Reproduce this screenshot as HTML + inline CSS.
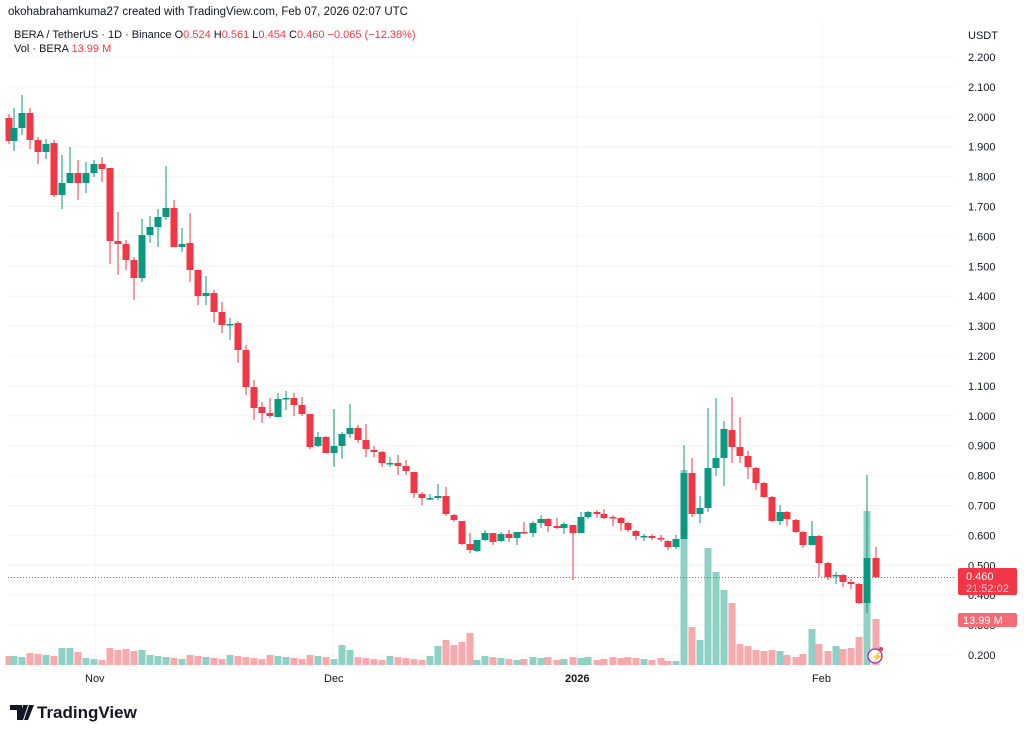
<!DOCTYPE html>
<html><head><meta charset="utf-8"><style>
body{margin:0;background:#fff;width:1024px;height:736px;overflow:hidden;font-family:"Liberation Sans",sans-serif;}
</style></head><body>
<svg id="s" width="1024" height="736" xmlns="http://www.w3.org/2000/svg" style="position:absolute;left:0;top:0"></svg>
<script>
const s=document.getElementById('s');let h='';
const Y=p=>655-(p-0.2)*299;
for(let i=2;i<=22;i++){const y=Y(i/10);h+=`<line x1="8" x2="955" y1="${y}" y2="${y}" stroke="#f3f4f6" stroke-width="1"/>`;}
[95,333,577,822].forEach(x=>h+=`<line x1="${x}" x2="${x}" y1="20" y2="665" stroke="#f3f4f6"/>`);
const C=[[9,118,141,114,144,0],[14,128,141,108,151,1],[22,113,128,95,135,1],[30,113,140,108,149,0],[38,140,152,137,164,0],[46,144,152,139,159,1],[54,143,195,140,197,0],[62,183,195,155,209,1],[70,173,183,147,183,1],[78,173,183,160,200,0],[86,173,183,162,193,1],[94,164,173,160,177,1],[102,164,169,157,182,0],[110,168,241,168,264,0],[118,241,244,212,275,0],[126,244,260,240,270,0],[134,260,278,257,300,0],[142,235,278,219,282,1],[150,227,235,216,243,1],[158,217,227,209,247,1],[166,208,217,166,220,1],[174,208,247,200,247,0],[182,244,247,228,252,1],[190,243,270,213,282,0],[198,270,296,270,305,0],[206,293,296,276,305,1],[214,293,312,290,323,0],[222,312,325,302,333,0],[230,324,325,318,340,1],[238,323,350,321,363,0],[246,350,387,345,395,0],[254,387,408,380,420,0],[262,407,413,402,423,0],[270,413,416,398,418,0],[278,399,417,393,417,1],[286,398,399,391,410,1],[294,398,405,393,416,0],[302,405,414,397,416,0],[310,414,447,414,449,0],[318,437,446,432,447,1],[326,437,453,436,453,0],[334,446,453,409,467,1],[342,434,446,432,459,1],[350,428,434,404,438,1],[358,428,440,425,443,0],[366,440,449,424,457,0],[374,450,452,446,457,0],[382,452,463,451,467,0],[390,463,464,457,467,1],[398,463,466,455,475,0],[406,466,471,460,475,0],[414,472,493,472,498,0],[422,494,498,492,505,0],[430,498,499,494,500,1],[438,496,498,484,500,1],[446,496,514,487,516,0],[454,515,520,514,522,0],[462,521,544,521,545,0],[470,544,550,533,553,0],[477,540,551,540,552,1],[485,533,540,530,541,1],[493,533,542,533,545,0],[501,534,541,532,542,1],[509,534,538,530,542,0],[517,532,538,532,545,1],[524,532,533,522,534,0],[533,523,533,521,537,1],[541,519,523,515,528,1],[548,519,526,518,532,0],[557,526,528,518,529,0],[564,524,528,522,534,1],[573,525,533,525,580,0],[581,517,533,512,533,1],[588,512,517,511,519,1],[597,512,514,510,518,0],[604,514,518,509,519,0],[613,517,518,515,526,0],[621,518,523,517,531,0],[628,523,530,522,532,0],[636,531,536,530,540,0],[644,536,537,534,541,1],[652,536,538,534,540,0],[661,538,539,535,542,0],[668,541,547,540,550,0],[676,539,547,535,549,1],[684,473,539,445,539,1],[692,473,514,458,517,0],[700,508,514,496,523,1],[708,468,508,408,512,1],[716,458,468,398,476,1],[724,429,458,421,486,1],[732,430,447,397,463,0],[740,447,456,417,463,0],[748,456,467,451,479,0],[756,468,483,467,490,0],[764,483,497,482,498,0],[772,497,521,496,522,0],[780,512,521,505,525,1],[787,512,519,511,526,0],[796,520,532,519,533,0],[803,532,545,531,548,0],[812,536,545,521,545,1],[819,536,563,535,577,0],[828,563,577,562,580,0],[836,575,576,572,584,1],[843,575,582,574,587,0],[851,582,584,579,589,0],[859,584,603,583,604,0],[867,558,603,475,613,1],[876,558,577,547,578,0]];
const VO={684:470,692:627,700:640,708:548,716:572,724:590,732:603,740:644,748:646,756:650,764:651,772:650,780:651,787:655,796:657,803:654,812:629,819:644,828:651,836:646,843:649,851:648,859:637,867:511,876:619,333:625,342:645,350:650,470:633,462:642,454:645,446:640,438:646,62:648,70:648,78:652,110:648,118:650,126:649,134:651,142:650,668:661,676:661};
let vb='',cb='';
C.forEach(c=>{const[x,t,b,wt,wb,g]=c;let v=VO[x];if(v===undefined){v=x<60?655:(x<150?658:(x<330?657:658));v+=((x*7)%5)-2;}
const vc=g?'#8fd1c6':'#f7a9ad';vb+=`<rect x="${x-3.5}" y="${v}" width="7" height="${665-v}" fill="${vc}"/>`;
const col=g?'#089981':'#f23645';cb+=`<line x1="${x}" x2="${x}" y1="${wt}" y2="${wb}" stroke="${col}" stroke-width="1"/><rect x="${x-3.5}" y="${t}" width="7" height="${Math.max(1.5,b-t)}" fill="${col}"/>`;});
h+=vb+cb;
h+=`<line x1="8" x2="955" y1="577.5" y2="577.5" stroke="#f23645" stroke-width="1" stroke-dasharray="1,2"/>`;
for(let i=2;i<=22;i++){const p=i/10;h+=`<text x="968" y="${Y(p)+4}" font-size="11" fill="#131722">${p.toFixed(3)}</text>`;}
h+=`<rect x="958" y="568" width="59" height="27" rx="2" fill="#f23645"/><text x="966" y="580" font-size="11" fill="#fff">0.460</text><text x="966" y="592" font-size="11" fill="#fcd">21:52:02</text>`;
h+=`<rect x="958" y="613" width="59" height="14" rx="2" fill="#f26b75"/><text x="963" y="624" font-size="11" fill="#fff">13.99 M</text>`;
h+=`<text x="968" y="39" font-size="11" fill="#131722">USDT</text>`;
h+=`<text x="85" y="682" font-size="11" fill="#131722">Nov</text><text x="324" y="682" font-size="11" fill="#131722">Dec</text><text x="565" y="682" font-size="11" font-weight="bold" fill="#131722">2026</text><text x="812" y="682" font-size="11" fill="#131722">Feb</text>`;
h+=`<circle cx="875" cy="656" r="7" fill="#fff" stroke="#9c27b0" stroke-width="1.3"/><text x="871" y="660" font-size="10" fill="#9c27b0">⚡</text><circle cx="881" cy="649" r="2" fill="#f23645"/>`;
h+=`<text x="8" y="15" font-size="11.5" fill="#131722">okohabrahamkuma27 created with TradingView.com, Feb 07, 2026 02:07 UTC</text>`;
h+=`<text x="14" y="38" font-size="11" fill="#131722">BERA / TetherUS · 1D · Binance  O<tspan fill="#f23645">0.524</tspan>  H<tspan fill="#f23645">0.561</tspan>  L<tspan fill="#f23645">0.454</tspan>  C<tspan fill="#f23645">0.460</tspan>  <tspan fill="#f23645">−0.065 (−12.38%)</tspan></text>`;
h+=`<text x="14" y="52" font-size="11" fill="#131722">Vol · BERA  <tspan fill="#f23645">13.99 M</tspan></text>`;
h+=`<path d="M10 705 h12 v15 h-5 v-10 h-7z M23 705 h5 l-5 15 h-4z M29 705 h5 l-6 15 h-4z" fill="#131722"/><text x="37" y="718" font-size="17" font-weight="bold" fill="#131722">TradingView</text>`;
s.innerHTML=h;
</script>
</body></html>
